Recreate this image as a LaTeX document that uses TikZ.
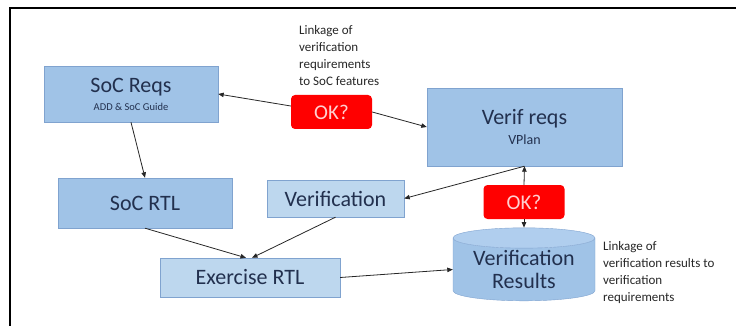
\documentclass[tikz,border=0pt]{standalone}
\usepackage{fontspec}
\setmainfont{Carlito}
\usepackage{tikz}
\usetikzlibrary{arrows.meta}
\usetikzlibrary{positioning,shapes.geometric}
\usepackage{xcolor}
\definecolor{boxblue}{RGB}{160,195,231}
\definecolor{paleblue}{RGB}{189,215,238}
\definecolor{capblue}{RGB}{176,206,238}
\definecolor{boxline}{RGB}{128,163,207}
\definecolor{navytext}{RGB}{34,48,78}
\definecolor{okred}{RGB}{255,0,0}
\definecolor{oktext}{RGB}{255,208,208}
\tikzset{
    block/.style={
        draw=boxline,
        fill=boxblue,
        rectangle,
        inner sep=0pt,
        align=center,
        text=navytext,
        font=\fontsize{22}{24}\selectfont
    },
    link/.style={
        draw=black!85,
        -{Triangle[length=5.5pt, width=4.5pt]},
        line width=0.8pt
    }
}

\begin{document}
\begin{tikzpicture}[x=1pt, y=-1pt] % pixel units, y runs downward
  % Define styles for the check boxes and the notes
  \tikzset{
    okbox/.style={
      fill=okred,
      rounded corners=4pt,
      minimum width=81pt,
      minimum height=34pt,
      text=oktext,
      font=\fontsize{21}{22}\selectfont
    },
    note/.style={
      anchor=north west,
      align=left,
      inner sep=0pt,
      text=black!85,
      font=\fontsize{13}{17}\selectfont
    },
    store/.style={
      cylinder,
      shape border rotate=90,
      aspect=0.2,
      draw=boxline,
      cylinder uses custom fill,
      cylinder body fill=boxblue,
      cylinder end fill=capblue,
      minimum width=142pt,
      minimum height=73pt,
      inner sep=0pt,
      align=center,
      text=navytext,
      font=\fontsize{22}{23}\selectfont
    }
  }

  \useasboundingbox (0,0) rectangle (736,326);

  % frame
  \draw[line width=1.6pt] (10,326) -- (10,8) -- (736,8);

  % requirement boxes
  \node[block, minimum width=174pt, minimum height=56pt] (socreqs) at (131,94)
    {SoC Reqs\\[-6pt]{\fontsize{10.5}{12}\selectfont ADD \& SoC Guide}};
  \node[block, minimum width=195pt, minimum height=78pt] (verifreqs) at (524.5,127)
    {Verif reqs\\[-4pt]{\fontsize{14}{16}\selectfont VPlan}};

  % rtl and test boxes
  \node[block, minimum width=174pt, minimum height=50pt] (socrtl) at (145,203) {SoC RTL};
  \node[block, fill=paleblue, minimum width=137pt, minimum height=37pt] (verification) at (335.5,198.5) {Verification};
  \node[block, fill=paleblue, minimum width=180pt, minimum height=39pt] (exrtl) at (250,277.5) {Exercise RTL};

  % results store
  \node[store] (results) at (524,269.5) {Verification\\Results};

  % checks
  \node[okbox] (okreqs) at (331.5,112) {OK?};
  \node[okbox] (okres) at (524,202) {OK?};

  % notes
  \node[note] (notereqs) at (299,25)
    {Linkage of\\verification\\requirements\\to SoC features};
  \node[note] (noteres) at (603,241)
    {Linkage of\\verification results to\\verification\\requirements};

  % connections
  \draw[link] ([yshift=6pt]okreqs.west) -- (socreqs.east);
  \draw[link] (okreqs.east) -- (verifreqs.west);
  \draw[link] (socreqs.south) -- (socrtl.north);
  \draw[link] (socrtl.south) -- ([xshift=-4pt]exrtl.north);
  \draw[link] (verification.south) -- ([xshift=2pt]exrtl.north);
  \draw[link] (verifreqs.south) -- (verification.east);
  \draw[link] (okres.north) -- (verifreqs.south);
  \draw[link] (okres.south) -- (results.north);
  \draw[link] (exrtl.east) -- (results.west);
\end{tikzpicture}
\end{document}
